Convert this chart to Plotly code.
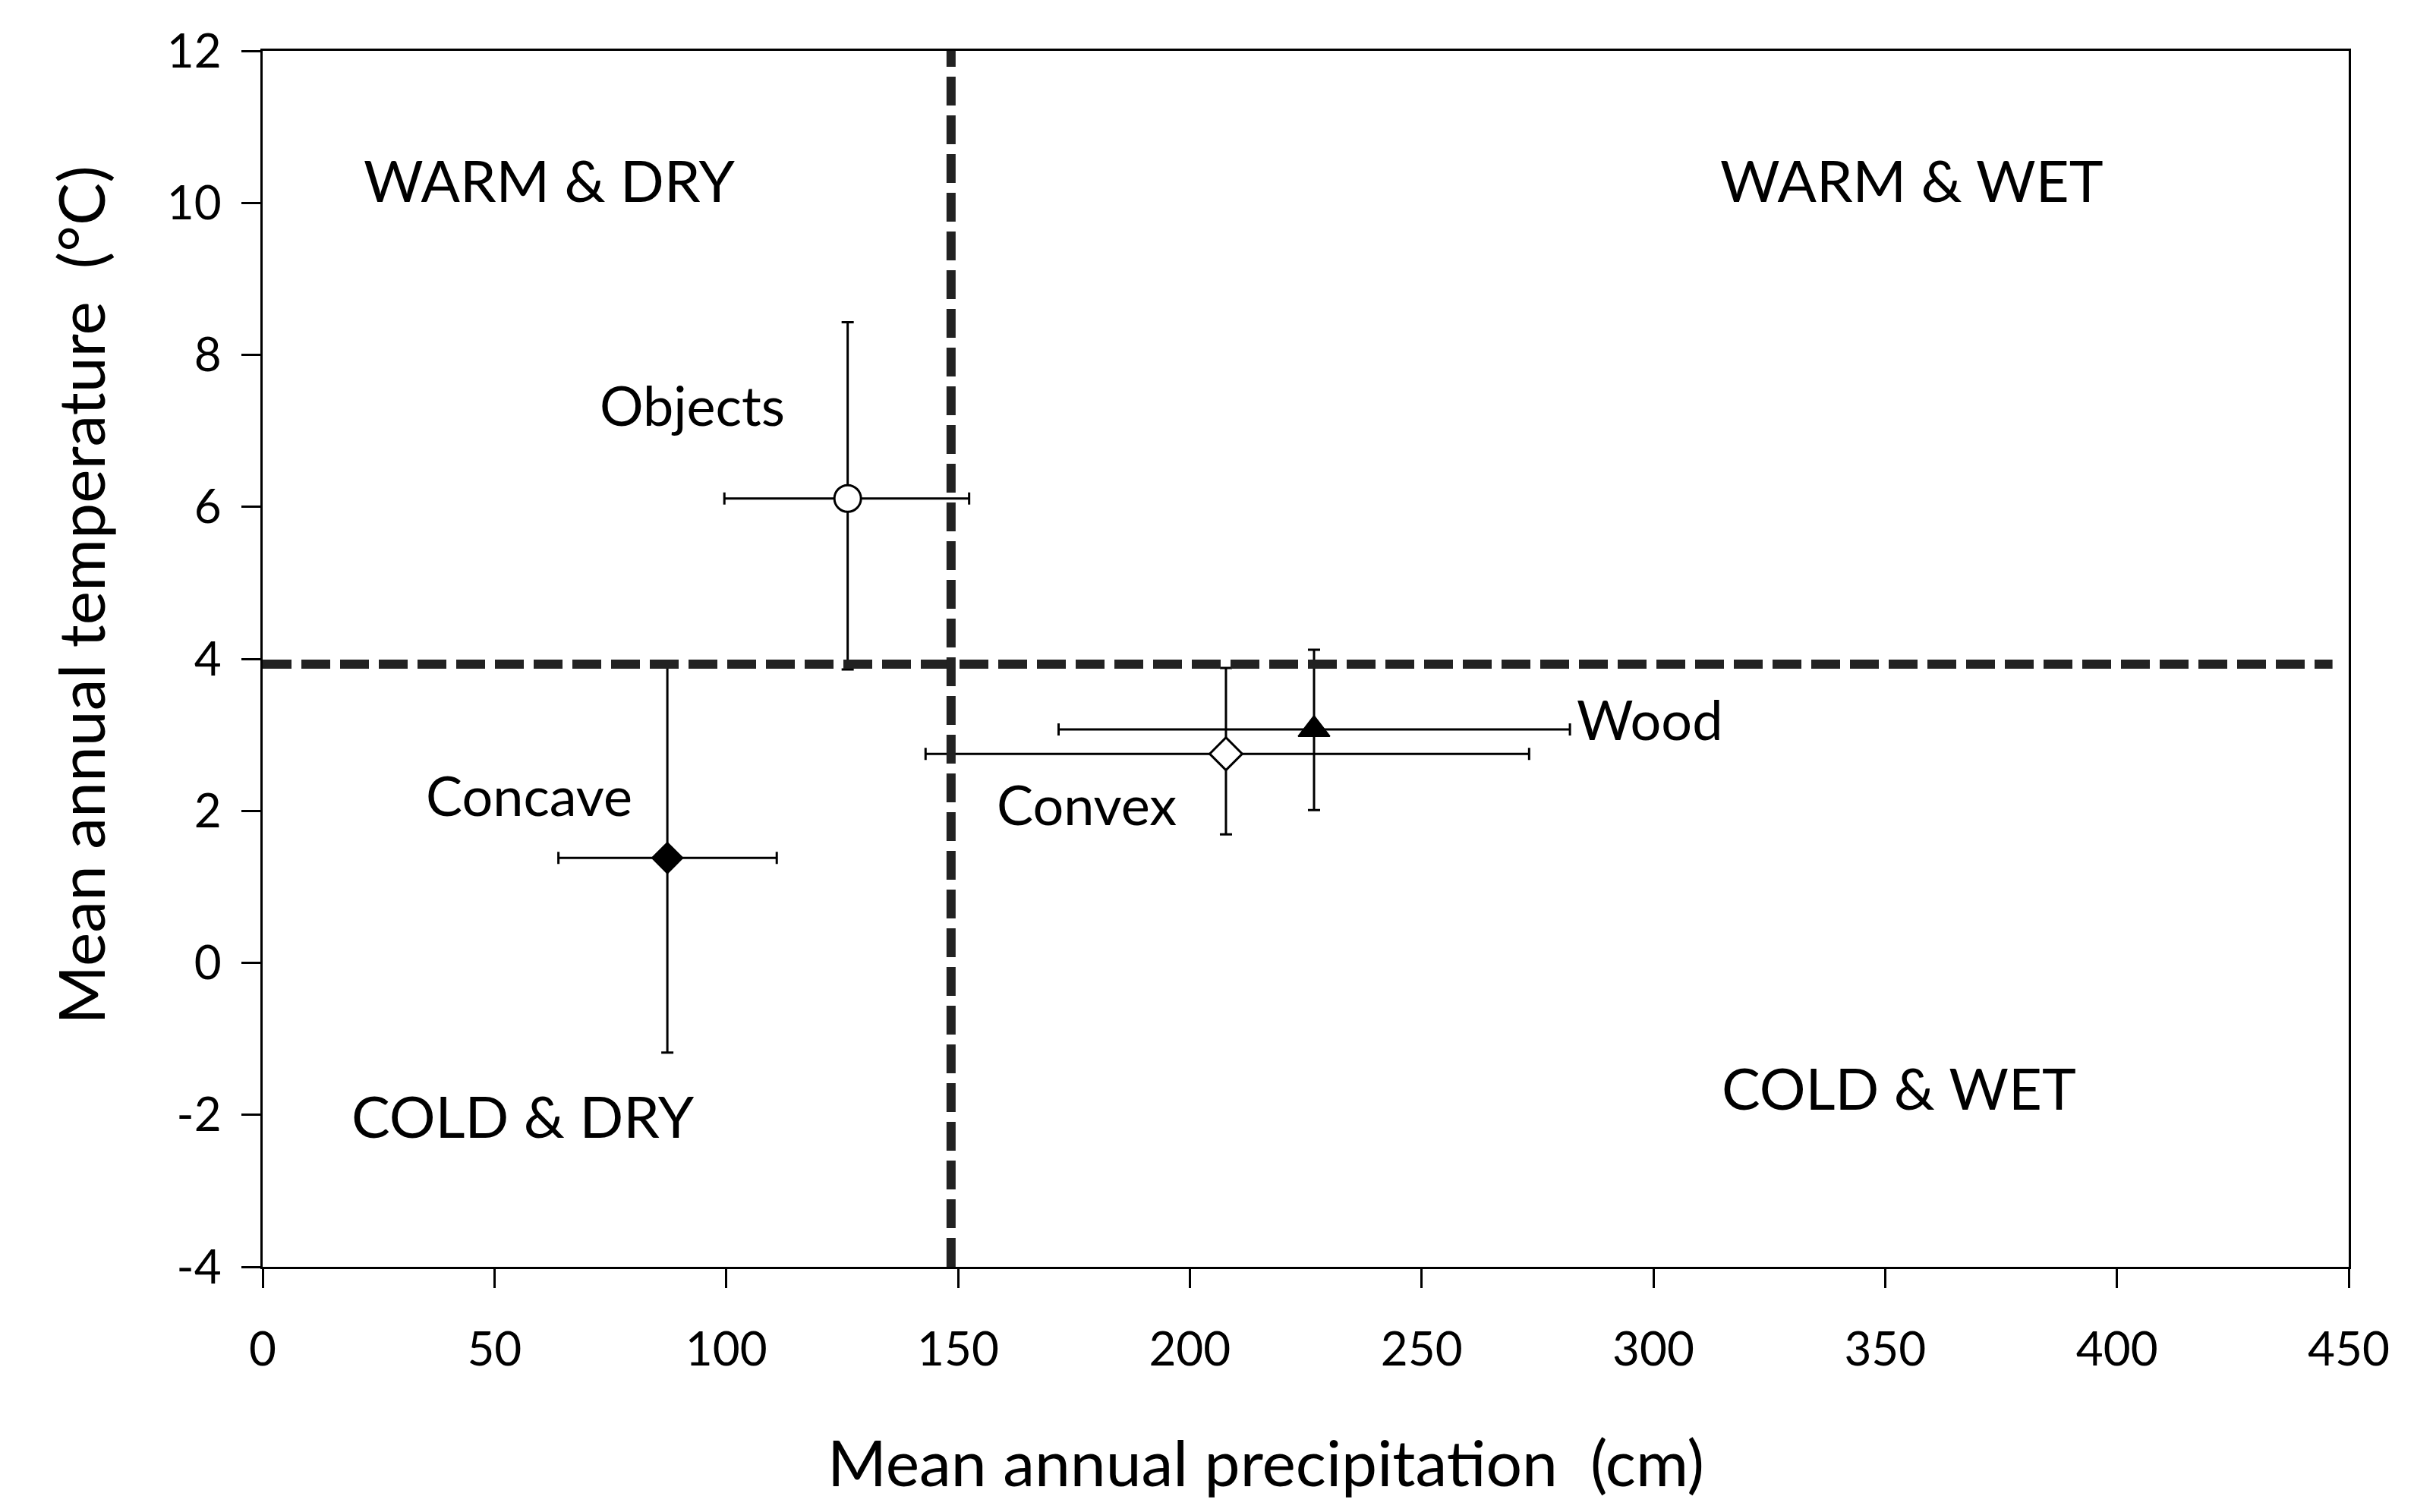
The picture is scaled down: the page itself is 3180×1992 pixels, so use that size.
import plotly.graph_objects as go

# climate envelopes of the four groups
series_names = ["Objects", "Concave", "Convex", "Wood"]
precip = [126.2, 87.3, 207.8, 226.8]
precip_err_plus = [26.2, 23.6, 65.4, 55.2]
precip_err_minus = [26.6, 23.5, 64.8, 55.1]
temp = [6.11, 1.38, 2.75, 3.07]
temp_err_plus = [2.32, 2.56, 1.13, 1.05]
temp_err_minus = [2.25, 2.56, 1.06, 1.06]

# where the series names sit (data coords)
label_x = [92.7, 57.5, 177.7, 299.2]
label_y = [7.35, 2.21, 2.09, 3.21]

quadrant_names = ["WARM & DRY", "WARM & WET", "COLD & DRY", "COLD & WET"]
quadrant_x = [61.8, 355.7, 56.1, 353.0]
quadrant_y = [10.31, 10.31, -2.01, -1.64]

# dashed dividing lines
temp_line_x = [0, 446.5]
temp_line_y = [3.93, 3.93]
precip_line_x = [148.5, 148.5]
precip_line_y = [-4, 12]

x_ticks = [0, 50, 100, 150, 200, 250, 300, 350, 400, 450]
y_ticks = [-4, -2, 0, 2, 4, 6, 8, 10, 12]
y_tick_text = ["-4", "-2", "0", "2", "4", "6", "8", "10", "12"]

symbols = ["circle", "diamond", "diamond", "triangle-up"]
fills = ["white", "black", "white", "black"]
sizes = [35, 31, 33, 36]
outline = [3, 2, 3, 2]

FONT = "Lato"

fig = go.Figure()

for i, name in enumerate(series_names):
    fig.add_trace(
        go.Scatter(
            x=[precip[i]],
            y=[temp[i]],
            mode="markers",
            name=name,
            marker=dict(
                symbol=symbols[i],
                size=sizes[i],
                color=fills[i],
                line=dict(color="black", width=outline[i]),
            ),
            error_x=dict(
                type="data",
                array=[precip_err_plus[i]],
                arrayminus=[precip_err_minus[i]],
                color="black",
                thickness=3,
                width=8,
            ),
            error_y=dict(
                type="data",
                array=[temp_err_plus[i]],
                arrayminus=[temp_err_minus[i]],
                color="black",
                thickness=3,
                width=8,
            ),
        )
    )

line_style = dict(color="#222222", width=12, dash="38px,13px")
fig.add_trace(go.Scatter(x=temp_line_x, y=temp_line_y, mode="lines", line=line_style))
fig.add_trace(go.Scatter(x=precip_line_x, y=precip_line_y, mode="lines", line=line_style))

for i, name in enumerate(series_names):
    fig.add_annotation(
        x=label_x[i], y=label_y[i], text=name, showarrow=False,
        font=dict(family=FONT, size=72, color="black"),
    )

for i, name in enumerate(quadrant_names):
    fig.add_annotation(
        x=quadrant_x[i], y=quadrant_y[i], text=name, showarrow=False,
        font=dict(family=FONT, size=76, color="black"),
    )

# axis titles placed as annotations (they sit off-centre in the original)
fig.add_annotation(
    xref="paper", yref="paper", x=0.481, y=-0.160,
    xanchor="center", yanchor="middle",
    text="Mean annual precipitation  (cm)", showarrow=False,
    font=dict(family=FONT, size=84, color="black"),
)
fig.add_annotation(
    xref="paper", yref="paper", x=-0.0873, y=0.552, textangle=-90,
    xanchor="center", yanchor="middle",
    text="Mean annual temperature  (°C)", showarrow=False,
    font=dict(family=FONT, size=84, color="black"),
)

axis_common = dict(
    showline=True,
    linecolor="black",
    linewidth=3,
    mirror=True,
    showgrid=False,
    zeroline=False,
    ticks="outside",
    ticklen=25,
    tickwidth=3,
    tickcolor="black",
    tickfont=dict(family=FONT, size=62, color="black"),
)

fig.update_xaxes(range=[0, 450], tickvals=x_ticks, ticklabelstandoff=28, **axis_common)
fig.update_yaxes(range=[-4, 12], tickvals=y_ticks, ticktext=y_tick_text, ticklabelstandoff=14, **axis_common)

fig.update_layout(
    width=3180,
    height=1992,
    margin=dict(l=338, r=94, t=59, b=331),
    paper_bgcolor="white",
    plot_bgcolor="white",
    showlegend=False,
    font=dict(family=FONT, color="black"),
)

fig.write_html("out.html")
